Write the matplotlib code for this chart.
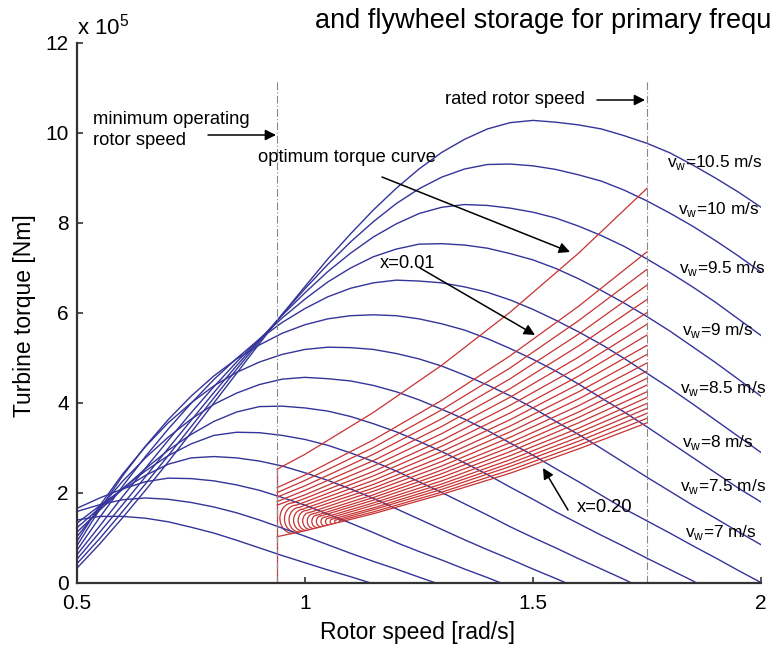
import matplotlib
matplotlib.use('Agg')
import matplotlib.pyplot as plt
from matplotlib.patches import Arc

plt.rcParams['font.family'] = ['Liberation Sans', 'DejaVu Sans']
plt.rcParams['mathtext.fontset'] = 'custom'
plt.rcParams['mathtext.rm'] = 'Liberation Sans'

# ---------------- data (torque in 1e5 Nm, rotor speed in rad/s) ----------------
omega_grid = [0.50, 0.55, 0.60, 0.65, 0.70, 0.75, 0.80, 0.85, 0.90, 0.95, 1.00,
              1.05, 1.10, 1.15, 1.20, 1.25, 1.30, 1.35, 1.40, 1.45, 1.50, 1.55,
              1.60, 1.65, 1.70, 1.75, 1.80, 1.85, 1.90, 1.95, 2.00]

wind_speeds = [4, 4.5, 5, 5.5, 6, 6.5, 7, 7.5, 8, 8.5, 9, 9.5, 10, 10.5]
curve_end = [1.144, 1.287, 1.430, 1.573, 1.716, 1.859, 2.0, 2.0, 2.0, 2.0, 2.0, 2.0, 2.0, 2.0]

torque_4 = [1.40, 1.48, 1.48, 1.44, 1.36, 1.24, 1.11, 0.95, 0.78, 0.61, 0.45, 0.29, 0.14, 0.00]
torque_4_5 = [1.59, 1.74, 1.85, 1.89, 1.86, 1.79, 1.69, 1.56, 1.40, 1.22, 1.04, 0.85, 0.66,
              0.48, 0.31, 0.13, 0.00]
torque_5 = [1.66, 1.89, 2.09, 2.25, 2.33, 2.32, 2.27, 2.18, 2.06, 1.90, 1.73, 1.53, 1.33,
            1.12, 0.90, 0.70, 0.51, 0.31, 0.12, 0.00]
torque_5_5 = [1.33, 1.72, 2.08, 2.39, 2.64, 2.78, 2.81, 2.78, 2.71, 2.60, 2.45, 2.28, 2.09,
              1.88, 1.65, 1.42, 1.19, 0.96, 0.74, 0.53, 0.31, 0.10, 0.00]
torque_6 = [1.23, 1.67, 2.10, 2.49, 2.83, 3.09, 3.28, 3.35, 3.34, 3.28, 3.19, 3.06, 2.89,
            2.70, 2.49, 2.25, 2.01, 1.76, 1.51, 1.25, 1.01, 0.78, 0.54, 0.31, 0.08, 0.00]
torque_6_5 = [1.13, 1.62, 2.09, 2.54, 2.95, 3.30, 3.59, 3.80, 3.92, 3.93, 3.89, 3.82, 3.70,
              3.54, 3.36, 3.15, 2.92, 2.67, 2.41, 2.13, 1.86, 1.58, 1.32, 1.06, 0.81, 0.55,
              0.30, 0.05, 0.00]
torque_7 = [1.03, 1.67, 2.26, 2.78, 3.24, 3.64, 3.97, 4.22, 4.41, 4.53, 4.57, 4.54, 4.49,
            4.39, 4.25, 4.07, 3.86, 3.64, 3.39, 3.11, 2.84, 2.54, 2.25, 1.95, 1.65, 1.38,
            1.11, 0.83, 0.56, 0.28, 0.01]
torque_7_5 = [0.93, 1.72, 2.42, 3.03, 3.56, 4.00, 4.38, 4.68, 4.91, 5.08, 5.19, 5.24, 5.23,
              5.19, 5.10, 4.98, 4.82, 4.62, 4.40, 4.16, 3.89, 3.59, 3.30, 2.99, 2.67, 2.35,
              2.04, 1.73, 1.44, 1.14, 0.85]
torque_8 = [0.83, 1.64, 2.38, 3.04, 3.63, 4.15, 4.60, 4.98, 5.29, 5.55, 5.74, 5.87, 5.94,
            5.96, 5.94, 5.87, 5.76, 5.62, 5.43, 5.21, 4.97, 4.71, 4.42, 4.11, 3.80, 3.47,
            3.13, 2.79, 2.45, 2.11, 1.80]
torque_8_5 = [0.73, 1.46, 2.15, 2.81, 3.42, 3.99, 4.52, 4.99, 5.42, 5.79, 6.10, 6.36, 6.55,
              6.67, 6.73, 6.71, 6.67, 6.58, 6.46, 6.29, 6.08, 5.84, 5.58, 5.30, 4.99, 4.66,
              4.33, 3.98, 3.62, 3.26, 2.90]
torque_9 = [0.63, 1.27, 1.92, 2.55, 3.17, 3.78, 4.36, 4.91, 5.42, 5.89, 6.31, 6.69, 7.00,
            7.25, 7.42, 7.53, 7.54, 7.51, 7.44, 7.32, 7.18, 6.99, 6.76, 6.50, 6.22, 5.92,
            5.60, 5.25, 4.90, 4.53, 4.15]
torque_9_5 = [0.53, 1.13, 1.74, 2.36, 2.99, 3.61, 4.23, 4.83, 5.40, 5.95, 6.45, 6.92, 7.33,
              7.69, 7.98, 8.21, 8.35, 8.41, 8.39, 8.33, 8.24, 8.11, 7.93, 7.72, 7.48, 7.20,
              6.90, 6.58, 6.24, 5.87, 5.50]
torque_10 = [0.43, 0.99, 1.59, 2.20, 2.83, 3.47, 4.11, 4.75, 5.37, 5.97, 6.54, 7.08, 7.58,
             8.03, 8.43, 8.76, 9.02, 9.20, 9.30, 9.31, 9.27, 9.19, 9.07, 8.93, 8.73, 8.49,
             8.22, 7.93, 7.61, 7.27, 6.91]
torque_10_5 = [0.33, 0.87, 1.45, 2.06, 2.69, 3.34, 4.00, 4.66, 5.32, 5.97, 6.59, 7.20, 7.76,
               8.29, 8.77, 9.20, 9.57, 9.86, 10.09, 10.23, 10.28, 10.24, 10.18, 10.09, 9.94,
               9.77, 9.56, 9.29, 9.00, 8.69, 8.35]
blue_torques = [torque_4, torque_4_5, torque_5, torque_5_5, torque_6, torque_6_5, torque_7,
                torque_7_5, torque_8, torque_8_5, torque_9, torque_9_5, torque_10, torque_10_5]

omega_min = 0.939
omega_rated = 1.75
red_stations = [0.939, 1.0, 1.15, 1.3, 1.45, 1.6, 1.75]
optimum_torque = [2.53, 2.86, 3.79, 4.84, 6.02, 7.33, 8.77]
x_values = [0.01, 0.02, 0.03, 0.04, 0.05, 0.06, 0.07, 0.08, 0.09, 0.10,
            0.11, 0.12, 0.13, 0.14, 0.15, 0.16, 0.17, 0.18, 0.19, 0.20]
x_torque = [
    [2.12, 2.40, 3.18, 4.06, 5.05, 6.15, 7.36],
    [2.01, 2.28, 3.01, 3.85, 4.78, 5.83, 6.97],
    [1.91, 2.16, 2.86, 3.65, 4.54, 5.53, 6.62],
    [1.81, 2.06, 2.72, 3.48, 4.32, 5.27, 6.30],
    [1.73, 1.96, 2.60, 3.32, 4.13, 5.02, 6.01],
    [1.65, 1.88, 2.48, 3.17, 3.95, 4.80, 5.75],
    [1.59, 1.80, 2.38, 3.04, 3.78, 4.60, 5.51],
    [1.52, 1.73, 2.28, 2.92, 3.63, 4.42, 5.28],
    [1.46, 1.66, 2.19, 2.80, 3.49, 4.25, 5.08],
    [1.41, 1.60, 2.11, 2.70, 3.36, 4.09, 4.89],
    [1.36, 1.54, 2.04, 2.60, 3.24, 3.94, 4.71],
    [1.31, 1.49, 1.96, 2.51, 3.12, 3.80, 4.55],
    [1.27, 1.44, 1.90, 2.43, 3.02, 3.68, 4.40],
    [1.23, 1.39, 1.84, 2.35, 2.92, 3.56, 4.25],
    [1.19, 1.35, 1.78, 2.27, 2.83, 3.44, 4.12],
    [1.15, 1.30, 1.73, 2.20, 2.74, 3.34, 3.99],
    [1.12, 1.27, 1.67, 2.14, 2.66, 3.24, 3.88],
    [1.08, 1.23, 1.63, 2.08, 2.59, 3.15, 3.77],
    [1.05, 1.20, 1.58, 2.02, 2.51, 3.06, 3.66],
    [1.03, 1.16, 1.54, 1.97, 2.44, 2.98, 3.56],
]
# curved low-speed ends of the deloaded curves
arc_x = [0.06, 0.07, 0.08, 0.09, 0.10, 0.11, 0.12, 0.13, 0.14, 0.15, 0.16, 0.17, 0.18, 0.19]
arc_left = [0.945, 0.955, 0.965, 0.975, 0.985, 0.995, 1.005, 1.015, 1.025, 1.035, 1.045,
            1.055, 1.065, 1.075]
arc_right = [0.973, 0.981, 0.988, 0.996, 1.003, 1.011, 1.019, 1.027, 1.035, 1.043, 1.052,
             1.060, 1.068, 1.077]
arc_top = [1.78, 1.73, 1.68, 1.64, 1.61, 1.57, 1.54, 1.51, 1.49, 1.46, 1.44, 1.42, 1.40, 1.39]
arc_bottom = [1.10, 1.12, 1.13, 1.15, 1.17, 1.19, 1.21, 1.23, 1.25, 1.27, 1.29, 1.31, 1.33, 1.35]

wind_labels = ['10.5', '10', '9.5', '9', '8.5', '8', '7.5', '7']

# ---------------- figure ----------------
W, H = 771, 648
BLUE = '#34349a'
RED = '#c83232'


def P(px, py):
    return 0.5 + (px - 77) / 456.0, (583 - py) / 45.0


fig = plt.figure(figsize=(W / 100, H / 100), dpi=100)
ax = fig.add_axes([77 / W, (H - 583) / H, (761 - 77) / W, (583 - 43) / H])

for T, end in zip(blue_torques, curve_end):
    w = omega_grid[:len(T) - 1] + [end]
    ax.plot(w, T, color=BLUE, lw=1.0)

for x, T in zip(x_values, x_torque):
    if x in arc_x:
        i = arc_x.index(x)
        wr, tt, tb, wl = arc_right[i], arc_top[i], arc_bottom[i], arc_left[i]
        ax.add_patch(Arc((wr, (tt + tb) / 2), 2 * (wr - wl), tt - tb, theta1=90, theta2=270,
                         color=RED, lw=0.9))
        ws = [wr] + [s for s in red_stations if s > wr]
        ts = [tt] + [t for s, t in zip(red_stations, T) if s > wr]
        ax.plot(ws, ts, color=RED, lw=0.9)
    else:
        ax.plot(red_stations, T, color=RED, lw=0.9)
ax.plot(red_stations, optimum_torque, color=RED, lw=0.9)
ax.plot([omega_min, omega_min], [0, optimum_torque[0]], color=RED, lw=0.9)

for xv in (omega_min, omega_rated):
    ax.plot([xv, xv], [0, 11.15], color='#888888', lw=0.8, ls=(0, (7, 2, 1, 2)))

ax.set_xlim(0.5, 2.0)
ax.set_ylim(0, 12)
ax.set_xticks([0.5, 1, 1.5, 2])
ax.set_xticklabels(['0.5', '1', '1.5', '2'])
ax.set_yticks(range(0, 13, 2))
for s in ('top', 'right'):
    ax.spines[s].set_visible(False)
for s in ('left', 'bottom'):
    ax.spines[s].set_color('#333333')
    ax.spines[s].set_linewidth(1.6)
ax.tick_params(direction='in', length=4, width=1.2, color='#333333', labelsize=15)
ax.tick_params(axis='x', pad=8)
ax.tick_params(axis='y', pad=6)

fig.text(25 / W, 1 - 316 / H, 'Turbine torque [Nm]', rotation=90, ha='center', va='center', fontsize=16.5)
fig.text(418 / W, 1 - 633 / H, 'Rotor speed [rad/s]', ha='center', va='center', fontsize=16.5)
fig.text(77 / W, 1 - 35 / H, r'x 10$^{\mathregular{5}}$', ha='left', va='baseline', fontsize=16)
fig.text(315 / W, 1 - 28 / H, 'and flywheel storage for primary frequ', ha='left', va='baseline', fontsize=19.5)

fs = 13.2
ax.text(*P(93, 111), 'minimum operating\nrotor speed', ha='left', va='top', fontsize=fs, linespacing=1.3)
ax.text(*P(445, 100), 'rated rotor speed', ha='left', va='center', fontsize=fs)
ax.text(*P(258, 157), 'optimum torque curve', ha='left', va='center', fontsize=fs)
ax.text(*P(380, 263), 'x=0.01', ha='left', va='center', fontsize=fs)
ax.text(*P(577, 508), 'x=0.20', ha='left', va='center', fontsize=fs)
arrows = [((208, 135), (276, 135)), ((597, 100), (645, 100)), ((382, 177), (570, 252)),
          ((420, 268), (535, 335)), ((568, 510), (543, 468))]
for a, b in arrows:
    ax.annotate('', xy=P(*b), xytext=P(*a),
                arrowprops=dict(arrowstyle='-|>', color='black', lw=1.1, mutation_scale=16,
                                shrinkA=0, shrinkB=0))

label_pos = [(667, 163), (678, 210), (679, 268), (682, 330), (680, 388), (682, 442), (680, 487), (685, 533)]
for s, (px, py) in zip(wind_labels, label_pos):
    ax.text(*P(px, py), r'v$_\mathregular{w}$=' + s + ' m/s', ha='left', va='center',
            fontsize=12.4, clip_on=False)

fig.savefig('out.png', dpi=100)
